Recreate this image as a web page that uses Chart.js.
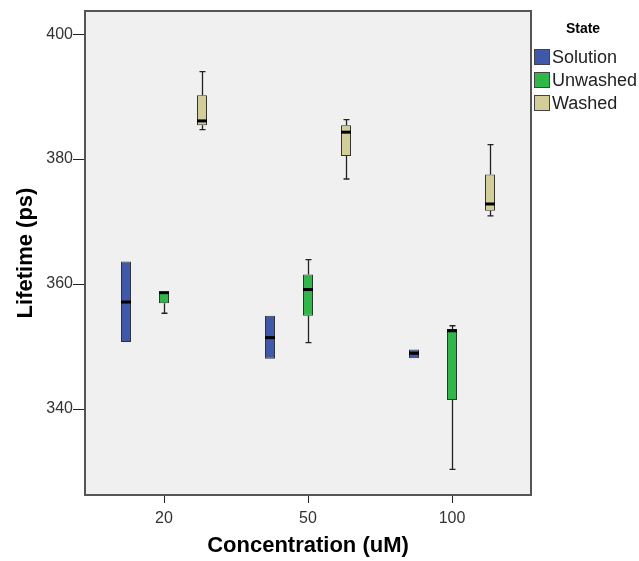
<!DOCTYPE html>
<html>
<head>
<meta charset="utf-8">
<script src="https://cdn.jsdelivr.net/npm/chart.js@4.4.1/dist/chart.umd.min.js"></script>
<style>
html,body{margin:0;padding:0;background:#ffffff;}
#wrap{width:639px;height:561px;position:relative;}
</style>
</head>
<body>
<div id="wrap"><canvas id="c" width="639" height="561"></canvas></div>
<script>
// ---- data ----
const categories = ['20', '50', '100'];
const seriesNames = ['Solution', 'Unwashed', 'Washed'];
const yTicks = [340, 360, 380, 400];

const solutionMin    = [350.7, 348.0, 348.1];
const solutionQ1     = [350.7, 348.0, 348.1];
const solutionMedian = [357.1, 351.4, 348.9];
const solutionQ3     = [363.6, 354.9, 349.5];
const solutionMax    = [363.6, 354.9, 349.5];

const unwashedMin    = [355.3, 350.6, 330.3];
const unwashedQ1     = [356.9, 354.9, 341.4];
const unwashedMedian = [358.6, 359.1, 352.5];
const unwashedQ3     = [358.75, 361.5, 352.8];
const unwashedMax    = [358.75, 363.9, 353.3];

const washedMin      = [384.7, 376.8, 370.9];
const washedQ1       = [385.4, 380.5, 371.7];
const washedMedian   = [386.1, 384.3, 372.8];
const washedQ3       = [390.2, 385.4, 377.5];
const washedMax      = [394.0, 386.3, 382.3];

const seriesColors = ['#3E58AC', '#2EB848', '#D3CE97'];

const stats = [
  {min: solutionMin, q1: solutionQ1, med: solutionMedian, q3: solutionQ3, max: solutionMax},
  {min: unwashedMin, q1: unwashedQ1, med: unwashedMedian, q3: unwashedQ3, max: unwashedMax},
  {min: washedMin,   q1: washedQ1,   med: washedMedian,   q3: washedQ3,   max: washedMax}
];

const FONT = '"Liberation Sans", Arial, Helvetica, sans-serif';
const FRAME_EXT = 7;

const datasets = seriesNames.map((name, s) => ({
  label: name,
  data: stats[s].q1.map((v, i) => [v, stats[s].q3[i]]),
  backgroundColor: seriesColors[s],
  borderColor: '#333',
  borderWidth: 1,
  borderSkipped: false,
  categoryPercentage: 0.7917,
  barPercentage: 0.263
}));

const boxPlugin = {
  id: 'boxDecor',
  beforeDraw(chart) {
    const {ctx, chartArea: a} = chart;
    ctx.save();
    ctx.fillStyle = '#F0F0F0';
    ctx.fillRect(a.left - FRAME_EXT, a.top, a.right - a.left + 2 * FRAME_EXT, a.bottom - a.top);
    ctx.restore();
  },
  afterDatasetsDraw(chart) {
    const {ctx} = chart;
    const ys = chart.scales.y;
    ctx.save();
    stats.forEach((st, s) => {
      const meta = chart.getDatasetMeta(s);
      meta.data.forEach((el, i) => {
        const x = Math.round(el.x) + 0.5;
        const w = el.width;
        const pMin = ys.getPixelForValue(st.min[i]);
        const pMax = ys.getPixelForValue(st.max[i]);
        const pQ1 = ys.getPixelForValue(st.q1[i]);
        const pQ3 = ys.getPixelForValue(st.q3[i]);
        const pMed = ys.getPixelForValue(st.med[i]);
        ctx.strokeStyle = '#222';
        ctx.lineWidth = 1.3;
        ctx.beginPath();
        if (pMax < pQ3 - 0.5) {
          ctx.moveTo(x, pQ3); ctx.lineTo(x, pMax);
          ctx.moveTo(x - 3, pMax); ctx.lineTo(x + 3, pMax);
        }
        if (pMin > pQ1 + 0.5) {
          ctx.moveTo(x, pQ1); ctx.lineTo(x, pMin);
          ctx.moveTo(x - 3, pMin); ctx.lineTo(x + 3, pMin);
        }
        ctx.stroke();
        ctx.fillStyle = '#000';
        ctx.fillRect(el.x - w / 2, pMed - 1.5, w, 3);
      });
    });
    ctx.restore();
  },
  afterDraw(chart) {
    const {ctx, chartArea: a} = chart;
    const ys = chart.scales.y;
    ctx.save();
    // frame
    ctx.strokeStyle = '#555';
    ctx.lineWidth = 2;
    ctx.strokeRect(a.left - FRAME_EXT, a.top, a.right - a.left + 2 * FRAME_EXT, a.bottom - a.top);
    // y tick marks
    ctx.strokeStyle = '#222';
    ctx.lineWidth = 1;
    ctx.beginPath();
    yTicks.forEach(t => {
      const y = Math.round(ys.getPixelForValue(t)) + 0.5;
      ctx.moveTo(a.left - FRAME_EXT - 12, y);
      ctx.lineTo(a.left - FRAME_EXT - 1, y);
    });
    ctx.stroke();
    // legend
    const lx = a.right + FRAME_EXT + 3;
    ctx.fillStyle = '#000';
    ctx.font = 'bold 14px ' + FONT;
    ctx.textAlign = 'center';
    ctx.textBaseline = 'middle';
    ctx.fillText('State', lx + 49, 29);
    ctx.font = '18px ' + FONT;
    ctx.textAlign = 'left';
    chart.data.datasets.forEach((ds, s) => {
      const cy = 57 + s * 23;
      ctx.fillStyle = ds.backgroundColor;
      ctx.fillRect(lx, cy - 8, 16, 16);
      ctx.strokeStyle = '#444';
      ctx.lineWidth = 1;
      ctx.strokeRect(lx + 0.5, cy - 7.5, 15, 15);
      ctx.fillStyle = '#222';
      ctx.fillText(ds.label, lx + 18, cy + 1);
    });
    ctx.restore();
  }
};

new Chart(document.getElementById('c'), {
  type: 'bar',
  data: {labels: categories, datasets: datasets},
  plugins: [boxPlugin],
  options: {
    responsive: false,
    animation: false,
    devicePixelRatio: 1,
    layout: {padding: {top: 11, right: 115, bottom: 0, left: 0}},
    plugins: {legend: {display: false}, tooltip: {enabled: false}},
    scales: {
      x: {
        grid: {display: true, drawOnChartArea: false, drawTicks: true, tickLength: 8, color: '#222', offset: false},
        border: {display: false},
        ticks: {color: '#333', font: {family: FONT, size: 16}, padding: 6},
        title: {display: true, text: 'Concentration (uM)', color: '#000',
                font: {family: FONT, size: 22, weight: 'bold'}, padding: {top: 2, bottom: 2}},
        afterFit(scale) {
          scale.height = 66;
          scale.paddingLeft = 0; scale.paddingRight = 0; scale.paddingTop = 0; scale.paddingBottom = 0;
        }
      },
      y: {
        min: 326.2,
        max: 403.7,
        grid: {display: false},
        border: {display: false},
        afterBuildTicks(scale) { scale.ticks = yTicks.map(v => ({value: v})); },
        ticks: {color: '#333', font: {family: FONT, size: 16}, padding: 11},
        title: {display: true, text: 'Lifetime (ps)', color: '#000',
                font: {family: FONT, size: 22, weight: 'bold'}, padding: {top: 13, bottom: 13}},
        afterFit(scale) {
          scale.width = 92;
          scale.paddingLeft = 0; scale.paddingRight = 0; scale.paddingTop = 0; scale.paddingBottom = 0;
        }
      }
    }
  }
});
</script>
</body>
</html>
